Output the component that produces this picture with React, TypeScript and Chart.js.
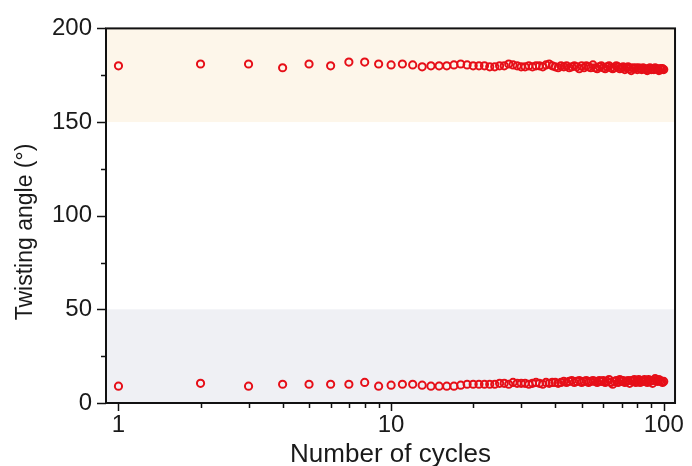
import React, { useEffect, useRef } from "react";
import { Chart, registerables } from "chart.js";

Chart.register(...registerables);

const cycles: number[] = Array.from({ length: 100 }, (_, i) => i + 1);

const upperAngles: number[] = [
  180, 181, 181, 179, 181, 180, 182, 182, 181, 180.5,
  181, 180.5, 179.5, 180, 180, 180, 180.5, 181, 180.5, 180,
  180, 180, 179.5, 179.5, 180, 180, 181, 180.5, 180, 179.5,
  179.5, 180, 179.5, 180, 180, 179.5, 180.5, 181, 180, 179.5,
  179, 180, 179.5, 180, 179, 179.5, 180, 179.5, 178.5, 180,
  179, 180, 179.5, 179, 180.5, 179, 178.5, 179.5, 180, 179,
  178.5, 179.5, 180, 179, 178.5, 179, 180, 179.5, 178.5, 179,
  179.5, 178, 179, 179.5, 178.5, 177.5, 179, 178.5, 179, 178,
  179, 178.5, 178, 179, 178.5, 178, 177.5, 178.5, 179, 178,
  178.5, 178, 179, 178.5, 178, 177.5, 178.5, 178, 178.5, 178,
];

const lowerAngles: number[] = [
  9, 10.5, 9, 10, 10, 10, 10, 11, 9, 9.5,
  10, 10, 9.5, 9, 9, 9, 9, 9.5, 10, 10,
  10, 10, 10, 10, 10.5, 10.5, 10, 11, 10.5, 10.5,
  10.5, 10, 10.5, 11, 10.5, 10, 11, 10.5, 11, 11,
  10.5, 11, 11.5, 11, 11.5, 12, 11, 11.5, 12, 11,
  11.5, 12, 11, 11.5, 12, 11.5, 11, 12, 11.5, 12,
  11, 11.5, 12.5, 11, 10, 11.5, 12, 11, 12.5, 11.5,
  12, 11, 11.5, 12, 10.5, 12, 11.5, 12.5, 11, 12,
  12.5, 11, 12, 11.5, 12.5, 12, 11, 12.5, 11.5, 12,
  10.5, 12, 13, 12, 11.5, 12.5, 12, 11.5, 11, 11.5,
];

const xMajorTicks: number[] = [1, 10, 100];
const xMinorTicks: number[] = [2, 3, 4, 5, 6, 7, 8, 9, 20, 30, 40, 50, 60, 70, 80, 90];
const yMajorTicks: number[] = [0, 50, 100, 150, 200];
const yMinorTicks: number[] = [25, 75, 125, 175];
const yTitle = "Twisting angle (°)";
const xTitle = "Number of cycles";
const bands: { from: number; to: number; color: string }[] = [
  { from: 150, to: 200, color: "#fdf6ea" },
  { from: 0, to: 50, color: "#eff0f4" },
];

const FONT = "'Liberation Sans', Arial, sans-serif";

const decorPlugin = {
  id: "decor",
  beforeDatasetsDraw(chart: any) {
    const { ctx, chartArea } = chart;
    const y = chart.scales.y;
    ctx.save();
    for (const b of bands) {
      const top = y.getPixelForValue(b.to);
      const bottom = y.getPixelForValue(b.from);
      ctx.fillStyle = b.color;
      ctx.fillRect(chartArea.left, top, chartArea.right - chartArea.left, bottom - top);
    }
    ctx.restore();
  },
  afterDatasetsDraw(chart: any) {
    const { ctx, chartArea } = chart;
    const x = chart.scales.x;
    const y = chart.scales.y;
    ctx.save();
    ctx.strokeStyle = "#111";
    ctx.lineWidth = 1.5;
    ctx.beginPath();
    for (const v of xMajorTicks) {
      const px = Math.round(x.getPixelForValue(v)) + 0.5;
      ctx.moveTo(px, chartArea.bottom);
      ctx.lineTo(px, chartArea.bottom + 8);
    }
    for (const v of xMinorTicks) {
      const px = Math.round(x.getPixelForValue(v)) + 0.5;
      ctx.moveTo(px, chartArea.bottom);
      ctx.lineTo(px, chartArea.bottom + 5);
    }
    for (const v of yMajorTicks) {
      const py = Math.round(y.getPixelForValue(v)) + 0.5;
      ctx.moveTo(chartArea.left, py);
      ctx.lineTo(chartArea.left - 9, py);
    }
    for (const v of yMinorTicks) {
      const py = Math.round(y.getPixelForValue(v)) + 0.5;
      ctx.moveTo(chartArea.left, py);
      ctx.lineTo(chartArea.left - 5, py);
    }
    ctx.stroke();
    ctx.lineWidth = 2;
    ctx.strokeStyle = "#111";
    ctx.strokeRect(chartArea.left, chartArea.top, chartArea.right - chartArea.left, chartArea.bottom - chartArea.top);

    // axis titles
    ctx.fillStyle = "#1a1a1a";
    ctx.font = `23px ${FONT}`;
    ctx.textAlign = "center";
    ctx.textBaseline = "middle";
    ctx.translate(26, 232);
    ctx.rotate(-Math.PI / 2);
    ctx.fillText(yTitle, 0, 0);
    ctx.setTransform(1, 0, 0, 1, 0, 0);
    ctx.font = `26px ${FONT}`;
    ctx.textBaseline = "alphabetic";
    ctx.fillText(xTitle, (chartArea.left + chartArea.right) / 2, 462);
    ctx.restore();
  },
};

export default function App() {
  const ref = useRef<HTMLCanvasElement | null>(null);

  useEffect(() => {
    if (!ref.current) return;
    const pointStyle = {
      showLine: false,
      borderColor: "#e60f18",
      backgroundColor: "rgba(0,0,0,0)",
      pointBorderColor: "#e60f18",
      pointBackgroundColor: "rgba(0,0,0,0)",
      pointRadius: 3.6,
      pointBorderWidth: 2,
    };
    const chart = new Chart(ref.current, {
      type: "scatter",
      data: {
        datasets: [
          { label: "upper", data: cycles.map((c, i) => ({ x: c, y: upperAngles[i] })), ...pointStyle },
          { label: "lower", data: cycles.map((c, i) => ({ x: c, y: lowerAngles[i] })), ...pointStyle },
        ],
      },
      options: {
        animation: false,
        responsive: false,
        devicePixelRatio: 1,
        layout: { padding: { left: 0, top: 25, right: 12, bottom: 0 } },
        plugins: { legend: { display: false }, tooltip: { enabled: false } },
        scales: {
          x: {
            type: "logarithmic",
            min: 0.9,
            max: 110,
            afterBuildTicks: (s: any) => {
              s.ticks = xMajorTicks.map((v) => ({ value: v }));
            },
            afterFit: (s: any) => {
              s.height = 63;
            },
            grid: { display: false, drawTicks: false },
            border: { display: false },
            ticks: {
              autoSkip: false,
              maxRotation: 0,
              padding: 8,
              color: "#1a1a1a",
              font: { family: FONT, size: 24 },
              callback: (v: any) => String(v),
            },
            title: { display: false },
          },
          y: {
            type: "linear",
            min: 0,
            max: 200,
            afterBuildTicks: (s: any) => {
              s.ticks = yMajorTicks.map((v) => ({ value: v }));
            },
            afterFit: (s: any) => {
              s.width = 106;
            },
            grid: { display: false, drawTicks: false },
            border: { display: false },
            ticks: {
              padding: 14,
              color: "#1a1a1a",
              font: { family: FONT, size: 24 },
            },
            title: { display: false },
          },
        },
      },
      plugins: [decorPlugin],
    } as any);
    return () => chart.destroy();
  }, []);

  return (
    <div style={{ position: "fixed", left: 0, top: 0, width: 692, height: 466, background: "#fff" }}>
      <canvas ref={ref} width={692} height={466} style={{ width: 692, height: 466, display: "block" }} />
    </div>
  );
}
